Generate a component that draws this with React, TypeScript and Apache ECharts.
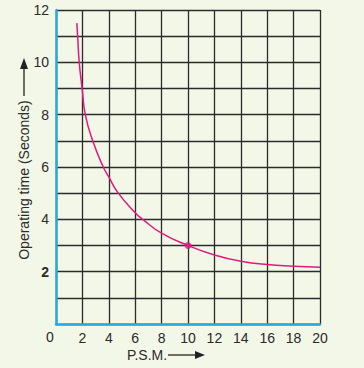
import React, { useEffect, useRef } from "react";
import * as echarts from "echarts";

const psm = [1.58, 1.64, 1.76, 1.98, 2.22, 2.78, 3.58, 4.0, 4.65, 6.0, 6.57, 8.0, 10.0, 12.0, 14.0, 16.0, 18.0, 20.0];
const opTime = [11.5, 11.0, 10.0, 9.0, 8.0, 7.0, 6.0, 5.62, 5.05, 4.25, 4.0, 3.47, 3.0, 2.64, 2.4, 2.27, 2.21, 2.17];
const markedPoint = [10, 3];
const xTicks = [0, 2, 4, 6, 8, 10, 12, 14, 16, 18, 20];
const yTicks = [2, 4, 6, 8, 10, 12];

export default function App() {
  const ref = useRef<HTMLDivElement>(null);
  useEffect(() => {
    if (!ref.current) return;
    const chart = echarts.init(ref.current, null, { renderer: "svg" });
    const font = "Liberation Sans, Arial, sans-serif";
    chart.setOption({
      animation: false,
      backgroundColor: "#f3f7e8",
      grid: { left: 56, top: 10, width: 264, height: 314 },
      xAxis: {
        type: "value",
        min: xTicks[0],
        max: xTicks[xTicks.length - 1],
        interval: 2,
        axisLine: { show: true, onZero: false, lineStyle: { color: "#2aa9e0", width: 2.5 } },
        axisTick: { show: false },
        splitLine: { show: true, lineStyle: { color: "#2b2b2b", width: 1.3 } },
        axisLabel: {
          color: "#2a2a2a",
          fontSize: 14,
          fontFamily: font,
          margin: 7,
          formatter: (v: number) => (v === 0 ? "" : String(v)),
        },
      },
      yAxis: {
        type: "value",
        min: 0,
        max: yTicks[yTicks.length - 1],
        interval: 1,
        axisLine: { show: true, onZero: false, lineStyle: { color: "#2aa9e0", width: 2.5 } },
        axisTick: { show: false },
        splitLine: { show: true, lineStyle: { color: "#2b2b2b", width: 1.3 } },
        axisLabel: {
          color: "#2a2a2a",
          fontSize: 14,
          fontFamily: font,
          margin: 7,
          formatter: (v: number) => {
            if (!yTicks.includes(v)) return "";
            return v === 2 ? "{b|2}" : String(v);
          },
          rich: { b: { fontWeight: "bold", fontSize: 14, fontFamily: font, color: "#2a2a2a" } },
        },
      },
      series: [
        {
          type: "line",
          data: psm.map((x, i) => [x, opTime[i]]),
          smooth: 0.5,
          showSymbol: false,
          lineStyle: { color: "#e2197f", width: 1.5 },
          z: 5,
        },
        {
          type: "scatter",
          data: [markedPoint],
          symbolSize: 7,
          itemStyle: { color: "#e2197f" },
          z: 6,
        },
      ],
      graphic: [
        { type: "text", x: 50, y: 337, style: { text: "0", font: `14px ${font}`, fill: "#2a2a2a", align: "center", verticalAlign: "middle" } },
        { type: "text", x: 147, y: 355, style: { text: "P.S.M.", font: `14px ${font}`, fill: "#2a2a2a", align: "center", verticalAlign: "middle" } },
        { type: "line", shape: { x1: 168, y1: 355, x2: 197, y2: 355 }, style: { stroke: "#222", lineWidth: 1.3 } },
        { type: "polygon", shape: { points: [[205, 355], [195, 351], [195, 359]] }, style: { fill: "#222" } },
        {
          type: "text",
          x: 24,
          y: 180,
          rotation: Math.PI / 2,
          style: { text: "Operating time (Seconds)", font: `14px ${font}`, fill: "#2a2a2a", align: "center", verticalAlign: "middle" },
        },
        { type: "line", shape: { x1: 24, y1: 96, x2: 24, y2: 68 }, style: { stroke: "#222", lineWidth: 1.3 } },
        { type: "polygon", shape: { points: [[24, 58], [20, 69], [28, 69]] }, style: { fill: "#222" } },
      ],
    });
    return () => chart.dispose();
  }, []);
  return <div ref={ref} style={{ position: "fixed", left: 0, top: 0, width: 364, height: 368 }} />;
}
